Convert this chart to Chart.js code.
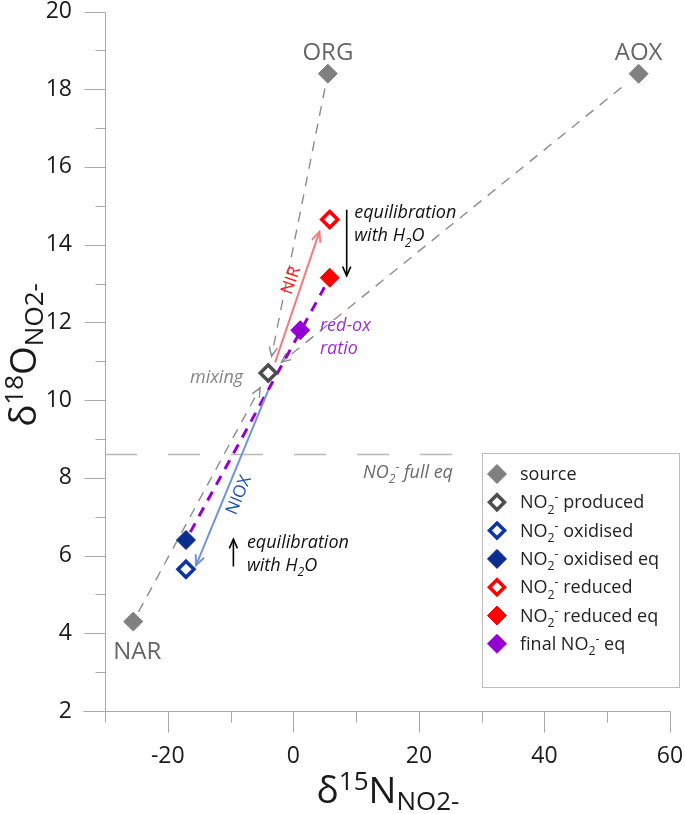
<!DOCTYPE html>
<html><head><meta charset="utf-8">
<script src="https://cdn.jsdelivr.net/npm/chart.js@4"></script>
<style>html,body{margin:0;padding:0;background:#fff}#wrap{width:685px;height:814px;position:relative}</style>
</head><body><div id="wrap"><canvas id="c" width="685" height="814"></canvas></div>
<script>
const FONT = '"Open Sans", "Noto Sans", sans-serif';

// ---------------- data ----------------
const sourceNames = ['ORG', 'AOX', 'NAR'];
const sourceX = [5.5, 55.0, -25.5];
const sourceY = [18.4, 18.4, 4.3];
const producedX = [-4.0];
const producedY = [10.7];
const oxidisedX = [-17.1];
const oxidisedY = [5.65];
const oxidisedEqX = [-17.1];
const oxidisedEqY = [6.4];
const reducedX = [5.8];
const reducedY = [14.65];
const reducedEqX = [5.8];
const reducedEqY = [13.15];
const finalEqX = [1.1];
const finalEqY = [11.8];
const fullEqLevel = 8.6;
const fullEqXEnd = 25.5;
const xRange = [-30, 60];
const yRange = [2, 20];
const xTickLabels = [-20, 0, 20, 40, 60];
const yTickLabels = [2, 4, 6, 8, 10, 12, 14, 16, 18, 20];
// process arrows (data units)
const nirFrom = [-2.9, 10.97];
const nirTo = [4.15, 14.33];
const nioxFrom = [-4.0, 10.25];
const nioxTo = [-15.5, 5.75];
const eqDownX = 8.5;
const eqDownY = [14.9, 13.2];
const eqUpX = -9.55;
const eqUpY = [5.72, 6.42];

const COL = {
  source: '#808080', produced: '#4d4d4d', ox: '#0b35a5', oxEq: '#0a2d8e',
  red: '#ff0000', redEq: '#ff0000', fin: '#9400d3'
};

const pts = (xs, ys) => xs.map((x, i) => ({x: x, y: ys[i]}));

function ds(label, xs, ys, color, open) {
  return {
    label: label, data: pts(xs, ys), pointStyle: 'rectRot',
    pointRadius: open ? 8 : 9.5, pointHoverRadius: open ? 8 : 9.5,
    backgroundColor: open ? '#ffffff' : color, borderColor: color,
    borderWidth: open ? 3.5 : 1, _open: open
  };
}

// ---------------- helpers ----------------
function chemRuns(str, size) {
  const runs = [];
  const parts = str.split(/(NO2-|H2O)/);
  parts.forEach(p => {
    if (!p) return;
    if (p === 'NO2-') {
      runs.push({t: 'NO', s: size});
      runs.push({t: '2', s: size * 0.68, dy: size * 0.3});
      runs.push({t: '-', s: size * 0.68, dy: -size * 0.38});
    } else if (p === 'H2O') {
      runs.push({t: 'H', s: size});
      runs.push({t: '2', s: size * 0.68, dy: size * 0.3});
      runs.push({t: 'O', s: size});
    } else runs.push({t: p, s: size});
  });
  return runs;
}
function runsWidth(ctx, runs, style) {
  let w = 0;
  runs.forEach(r => { ctx.font = `${style} ${r.s}px ${FONT}`; w += ctx.measureText(r.t).width; });
  return w;
}
function drawRuns(ctx, runs, x, y, align, style, color) {
  const w = runsWidth(ctx, runs, style);
  let cx = align === 'center' ? x - w / 2 : (align === 'right' ? x - w : x);
  ctx.fillStyle = color; ctx.textAlign = 'left'; ctx.textBaseline = 'alphabetic';
  runs.forEach(r => {
    ctx.font = `${style} ${r.s}px ${FONT}`;
    ctx.fillText(r.t, cx, y + (r.dy || 0));
    cx += ctx.measureText(r.t).width;
  });
}
function shorten(x1, y1, x2, y2, g1, g2) {
  const dx = x2 - x1, dy = y2 - y1, d = Math.hypot(dx, dy), ux = dx / d, uy = dy / d;
  return [x1 + ux * g1, y1 + uy * g1, x2 - ux * g2, y2 - uy * g2];
}
function chevron(ctx, x, y, ang, len, spread) {
  ctx.setLineDash([]);
  ctx.beginPath();
  ctx.moveTo(x - len * Math.cos(ang - spread), y - len * Math.sin(ang - spread));
  ctx.lineTo(x, y);
  ctx.lineTo(x - len * Math.cos(ang + spread), y - len * Math.sin(ang + spread));
  ctx.stroke();
}
function arrow(ctx, s, color, width, dash, headLen) {
  ctx.strokeStyle = color; ctx.lineWidth = width;
  ctx.setLineDash(dash || []);
  ctx.beginPath(); ctx.moveTo(s[0], s[1]); ctx.lineTo(s[2], s[3]); ctx.stroke();
  if (headLen) chevron(ctx, s[2], s[3], Math.atan2(s[3] - s[1], s[2] - s[0]), headLen, 0.42);
}
function diamond(ctx, x, y, r, fill, stroke, lw) {
  ctx.beginPath();
  ctx.moveTo(x, y - r); ctx.lineTo(x + r, y); ctx.lineTo(x, y + r); ctx.lineTo(x - r, y); ctx.closePath();
  ctx.fillStyle = fill; ctx.fill();
  ctx.lineWidth = lw; ctx.strokeStyle = stroke; ctx.setLineDash([]); ctx.stroke();
}

// ---------------- plugin ----------------
const deco = {
  id: 'deco',
  beforeDatasetsDraw(chart) {
    const ctx = chart.ctx, xs = chart.scales.x, ys = chart.scales.y;
    const px = v => xs.getPixelForValue(v), py = v => ys.getPixelForValue(v);
    ctx.save();
    // axes
    ctx.strokeStyle = '#a8a8a8'; ctx.lineWidth = 1; ctx.setLineDash([]);
    const L = Math.round(px(xRange[0])) + 0.5, R = Math.round(px(xRange[1])) + 0.5;
    const T = Math.round(py(yRange[1])) + 0.5, B = Math.round(py(yRange[0])) + 0.5;
    ctx.beginPath();
    ctx.moveTo(L - 22, B); ctx.lineTo(R, B);
    ctx.moveTo(L, T); ctx.lineTo(L, B + 11);
    for (let v = xRange[0] + 10; v <= xRange[1]; v += 10) {
      const X = Math.round(px(v)) + 0.5, len = xTickLabels.includes(v) ? 21 : 11;
      ctx.moveTo(X, B); ctx.lineTo(X, B + len);
    }
    for (let v = yRange[0]; v <= yRange[1]; v += 1) {
      const Y = Math.round(py(v)) + 0.5, len = yTickLabels.includes(v) ? 21 : 10;
      ctx.moveTo(L - len, Y); ctx.lineTo(L, Y);
    }
    ctx.stroke();

    // full equilibrium line
    ctx.strokeStyle = '#b8b8b8'; ctx.lineWidth = 1.5; ctx.setLineDash([32, 31]);
    ctx.beginPath(); ctx.moveTo(px(xRange[0]), py(fullEqLevel)); ctx.lineTo(px(fullEqXEnd), py(fullEqLevel)); ctx.stroke();

    // mixing lines from sources
    const mx = px(producedX[0]), my = py(producedY[0]);
    const startGap = [15, 22, 11];
    sourceX.forEach((sx, i) => {
      const s = shorten(px(sx), py(sourceY[i]), mx, my, startGap[i], 17);
      arrow(ctx, s, '#8c8c8c', 1.4, [10, 8], 10);
    });

    // purple redox line
    const p = shorten(px(oxidisedEqX[0]), py(oxidisedEqY[0]), px(reducedEqX[0]), py(reducedEqY[0]), 9, 11);
    arrow(ctx, p, COL.fin, 3, [10, 8], 0);

    // NIR and NIOX
    arrow(ctx, [px(nirFrom[0]), py(nirFrom[1]), px(nirTo[0]), py(nirTo[1])], '#f47c7c', 2, [], 11);
    arrow(ctx, [px(nioxFrom[0]), py(nioxFrom[1]), px(nioxTo[0]), py(nioxTo[1])], '#7393d8', 2, [], 11);

    // equilibration arrows
    arrow(ctx, [px(eqDownX), py(eqDownY[0]), px(eqDownX), py(eqDownY[1])], '#000', 1.6, [], 10);
    arrow(ctx, [px(eqUpX), py(eqUpY[0]), px(eqUpX), py(eqUpY[1])], '#000', 1.6, [], 10);
    ctx.restore();
  },
  afterDatasetsDraw(chart) {
    const ctx = chart.ctx, xs = chart.scales.x, ys = chart.scales.y;
    const px = v => xs.getPixelForValue(v), py = v => ys.getPixelForValue(v);
    ctx.save();
    // source names
    ctx.font = `24px ${FONT}`; ctx.fillStyle = '#666'; ctx.textAlign = 'center'; ctx.textBaseline = 'middle';
    const nameDy = [-21, -21, 31], nameDx = [0, 0, 4];
    sourceNames.forEach((n, i) => ctx.fillText(n, px(sourceX[i]) + nameDx[i], py(sourceY[i]) + nameDy[i]));

    // annotation texts
    const fs = 18, lh = 23;
    const notes = [
      {lines: ['equilibration', 'with H2O'], x: 9.7, y: 14.83, color: '#111', align: 'left'},
      {lines: ['equilibration', 'with H2O'], x: -7.4, y: 6.35, color: '#111', align: 'left'},
      {lines: ['red-ox', 'ratio'], x: 4.25, y: 11.93, color: '#9a2fd0', align: 'left'},
      {lines: ['mixing'], x: -8.0, y: 10.6, color: '#858585', align: 'right'},
      {lines: ['NO2- full eq'], x: 11.1, y: 8.15, color: '#6a6a6a', align: 'left'}
    ];
    notes.forEach(n => {
      n.lines.forEach((l, k) => drawRuns(ctx, chemRuns(l, fs), px(n.x), py(n.y) + k * lh + 6, n.align, 'italic', n.color));
    });

    // process labels along arrows
    function alongLabel(text, from, to, t, off, color, flip) {
      const x1 = px(from[0]), y1 = py(from[1]), x2 = px(to[0]), y2 = py(to[1]);
      let ang = Math.atan2(y2 - y1, x2 - x1);
      if (flip) ang += Math.PI;
      const cx = x1 + (x2 - x1) * t, cy = y1 + (y2 - y1) * t;
      ctx.save();
      ctx.translate(cx, cy); ctx.rotate(ang);
      ctx.font = `17px ${FONT}`; ctx.fillStyle = color; ctx.textAlign = 'center'; ctx.textBaseline = 'middle';
      ctx.fillText(text, 0, off);
      ctx.restore();
    }
    alongLabel('NIR', nirFrom, nirTo, 0.6, -11, '#ff1a1a', false);
    alongLabel('NIOX', nioxFrom, nioxTo, 0.57, 13, '#1d4fb3', true);
    ctx.restore();
  },
  afterDraw(chart) {
    const ctx = chart.ctx;
    ctx.save();
    // legend
    const bx = 482.5, by = 453.5, bw = 197, bh = 234;
    ctx.strokeStyle = '#bdbdbd'; ctx.lineWidth = 1; ctx.setLineDash([]);
    ctx.strokeRect(bx, by, bw, bh);
    chart.data.datasets.forEach((d, i) => {
      const y = 474 + i * 28.3;
      if (d._open) diamond(ctx, 497, y, 7.5, '#fff', d.borderColor, 3.5);
      else diamond(ctx, 497, y, 9.5, d.backgroundColor, d.borderColor, 1);
      drawRuns(ctx, chemRuns(d.label, 18), 520, y + 6, 'left', 'normal', '#222');
    });
    // axis titles
    const M = 37, S = 26;
    const xt = [{t: 'δ', s: M}, {t: '15', s: S, dy: -0.36 * M}, {t: 'N', s: M}, {t: 'NO2-', s: S, dy: 0.2 * M}];
    drawRuns(ctx, xt, 388, 803, 'center', 'normal', '#1a1a1a');
    const yt = [{t: 'δ', s: M}, {t: '18', s: S, dy: -0.36 * M}, {t: 'O', s: M}, {t: 'NO2-', s: S, dy: 0.2 * M}];
    ctx.translate(36, 355); ctx.rotate(-Math.PI / 2);
    drawRuns(ctx, yt, 0, 0, 'center', 'normal', '#1a1a1a');
    ctx.restore();
  }
};

function noPad(s) { s.paddingTop = 0; s.paddingBottom = 0; s.paddingLeft = 0; s.paddingRight = 0; }
const tickFont = {family: FONT, size: 23, lineHeight: 1};
new Chart(document.getElementById('c'), {
  type: 'scatter',
  data: {
    datasets: [
      ds('source', sourceX, sourceY, COL.source, false),
      ds('NO2- produced', producedX, producedY, COL.produced, true),
      ds('NO2- oxidised', oxidisedX, oxidisedY, COL.ox, true),
      ds('NO2- oxidised eq', oxidisedEqX, oxidisedEqY, COL.oxEq, false),
      ds('NO2- reduced', reducedX, reducedY, COL.red, true),
      ds('NO2- reduced eq', reducedEqX, reducedEqY, COL.redEq, false),
      ds('final NO2- eq', finalEqX, finalEqY, COL.fin, false)
    ]
  },
  options: {
    responsive: false, animation: false, events: [],
    layout: {padding: {top: 11, right: 15, left: 0, bottom: 0}},
    plugins: {legend: {display: false}, tooltip: {enabled: false}},
    scales: {
      x: {
        type: 'linear', min: xRange[0], max: xRange[1],
        grid: {display: false, drawTicks: false}, border: {display: false},
        ticks: {stepSize: 10, autoSkip: false, maxRotation: 0, padding: 34, color: '#1a1a1a', font: tickFont,
          callback: v => xTickLabels.includes(v) ? String(v) : ''},
        afterFit: s => { s.height = 103; noPad(s); }
      },
      y: {
        type: 'linear', min: yRange[0], max: yRange[1],
        grid: {display: false, drawTicks: false}, border: {display: false},
        ticks: {stepSize: 1, autoSkip: false, padding: 33, color: '#1a1a1a', font: tickFont,
          callback: v => yTickLabels.includes(v) ? String(v) : ''},
        afterFit: s => { s.width = 105; noPad(s); }
      }
    }
  },
  plugins: [deco]
});
</script></body></html>
